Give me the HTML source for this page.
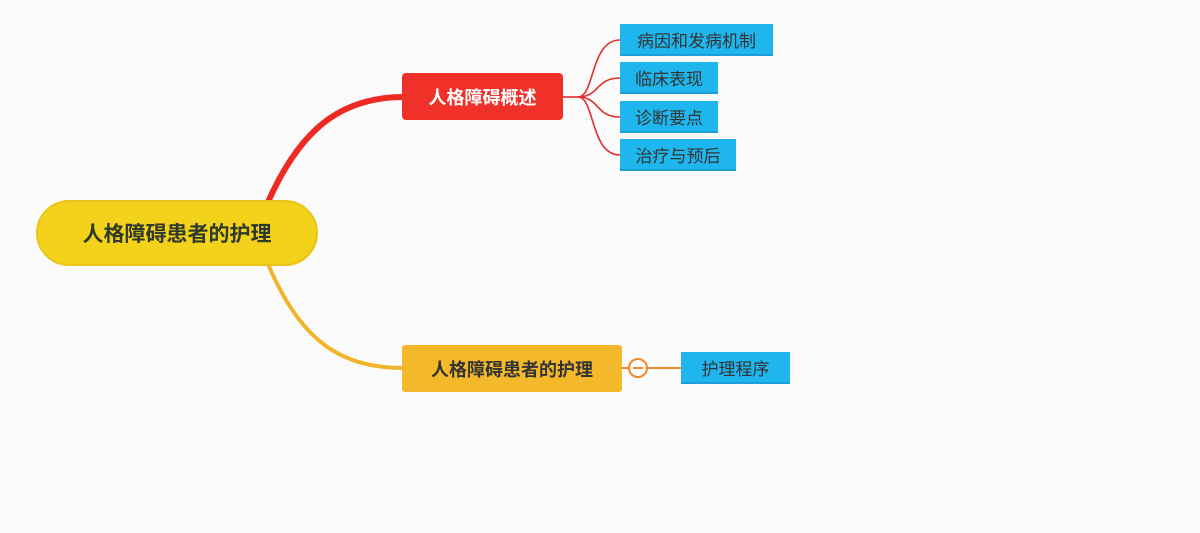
<!DOCTYPE html>
<html><head><meta charset="utf-8"><style>
body{margin:0;width:1200px;height:533px;background:#fbfbfb;position:relative;overflow:hidden;font-family:"Liberation Sans","Noto Sans CJK SC",sans-serif}
.n{position:absolute;display:flex;align-items:center;justify-content:center;box-sizing:border-box}
.b{background:#1fb6ee;color:#333;font-size:17px;border-bottom:2px solid #1a9fd6}
</style></head><body>
<svg width="1200" height="533" style="position:absolute;left:0;top:0">
<path d="M268,202 C300,130 340,97 404,97" stroke="#ee2a22" stroke-width="6" fill="none"/>
<path d="M268,264 C300,340 340,368 404,368" stroke="#f2b52a" stroke-width="4" fill="none"/>
<g stroke="#e0302a" stroke-width="1.6" fill="none">
<path d="M563,97 L578,97"/>
<path d="M578,97 C595,97 590,40 620,40"/>
<path d="M578,97 C600,97 595,78 620,78"/>
<path d="M578,97 C600,97 595,117 620,117"/>
<path d="M578,97 C595,97 590,155 620,155"/>
</g>
<line x1="622" y1="368" x2="681" y2="368" stroke="#f08a2a" stroke-width="2"/>
<circle cx="638" cy="368" r="9" fill="#fff" stroke="#f08a2a" stroke-width="2"/>
<line x1="633" y1="368" x2="643" y2="368" stroke="#f08a2a" stroke-width="2"/>
</svg>
<div class="n" style="left:36px;top:200px;width:282px;height:66px;border-radius:33px;background:#f2d21a;border:2px solid #eac418;color:#2f3a2a;font-size:21px;font-weight:bold">人格障碍患者的护理</div>
<div class="n" style="left:402px;top:73px;width:161px;height:47px;border-radius:4px;background:#f0312a;color:#fff;font-size:18px;font-weight:bold">人格障碍概述</div>
<div class="n" style="left:402px;top:345px;width:220px;height:47px;border-radius:3px;background:#f3b92a;color:#333;font-size:18px;font-weight:bold">人格障碍患者的护理</div>
<div class="n b" style="left:620px;top:24px;width:153px;height:32px">病因和发病机制</div>
<div class="n b" style="left:620px;top:62px;width:98px;height:32px">临床表现</div>
<div class="n b" style="left:620px;top:101px;width:98px;height:32px">诊断要点</div>
<div class="n b" style="left:620px;top:139px;width:116px;height:32px">治疗与预后</div>
<div class="n b" style="left:681px;top:352px;width:109px;height:32px">护理程序</div>
</body></html>
